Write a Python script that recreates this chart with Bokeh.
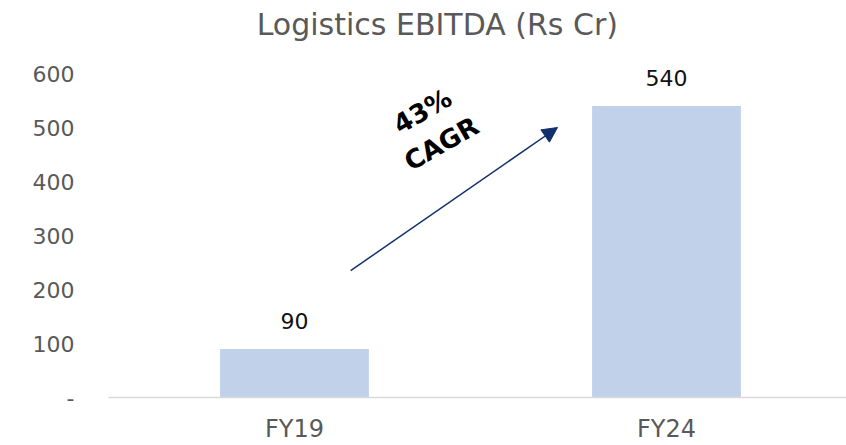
from bokeh.plotting import figure
from bokeh.models import Range1d, FixedTicker, Arrow, NormalHead, ColumnDataSource, Label
from bokeh.core.properties import value
from bokeh.embed import file_html
from bokeh.resources import INLINE

# ---- data ----
categories = ["FY19", "FY24"]
ebitda = [90, 540]
y_ticks = [0, 100, 200, 300, 400, 500, 600]
y_tick_labels = ["-", "100", "200", "300", "400", "500", "600"]
title_text = "Logistics EBITDA (Rs Cr)"
cagr_lines = ["43%", "CAGR"]

FONT = "DejaVu Sans"
BAR_COLOR = "#C1D1EA"
ARROW_COLOR = "#12306B"

xs = [i + 0.5 for i in range(len(categories))]
src = ColumnDataSource(dict(x=xs, top=ebitda, lbl=[str(v) for v in ebitda]))

p = figure(width=846, frame_width=738, frame_height=397,
           min_border_left=108, min_border_right=0, min_border_top=0, min_border_bottom=48,
           x_range=Range1d(0, 738 / 372), y_range=Range1d(0, 397 / 0.54),
           output_backend="svg", toolbar_location=None, tools="")

p.vbar(x="x", top="top", width=0.4, bottom=0, source=src,
       fill_color=BAR_COLOR, line_color=None)

p.text(x="x", y="top", text="lbl", source=src, text_align="center",
       text_baseline="alphabetic", y_offset=-28,
       text_font=value(FONT), text_font_size="22px", text_color="#111111")

# CAGR annotation
arrow = Arrow(end=NormalHead(size=15, fill_color=ARROW_COLOR, line_color=ARROW_COLOR),
              x_start=0.651, y_start=235, x_end=1.207, y_end=500,
              line_color=ARROW_COLOR, line_width=1.5)
p.add_layout(arrow)
p.text(x=[0.844, 0.895], y=[530, 470], text=cagr_lines, angle=0.52,
       text_align="center", text_baseline="middle",
       text_font=value(FONT), text_font_style="bold", text_font_size="26px",
       text_color="#000000")

# title, placed as a label at the top of the frame
title = Label(x=0.884, y=690, text=title_text, text_align="center",
              text_baseline="middle", text_font=FONT, text_font_size="30px",
              text_color="#595959")
p.add_layout(title)

# axes
p.xaxis.ticker = FixedTicker(ticks=xs)
p.xaxis.major_label_overrides = {x: c for x, c in zip(xs, categories)}
p.xaxis.axis_line_color = "#D9D9D9"
p.xaxis.axis_line_width = 1.5
p.xaxis.major_tick_line_color = None
p.xaxis.minor_tick_line_color = None
p.xaxis.major_label_standoff = 11
p.xaxis.major_label_text_font = FONT
p.xaxis.major_label_text_font_size = "24px"
p.xaxis.major_label_text_color = "#595959"

p.yaxis.ticker = FixedTicker(ticks=y_ticks)
p.yaxis.major_label_overrides = {t: l for t, l in zip(y_ticks, y_tick_labels)}
p.yaxis.axis_line_color = None
p.yaxis.major_tick_line_color = None
p.yaxis.minor_tick_line_color = None
p.yaxis.major_label_standoff = 28
p.yaxis.major_label_text_font = FONT
p.yaxis.major_label_text_font_size = "22px"
p.yaxis.major_label_text_color = "#595959"

p.xgrid.grid_line_color = None
p.ygrid.grid_line_color = None
p.outline_line_color = None

open("out.html", "w").write(file_html(p, INLINE))
